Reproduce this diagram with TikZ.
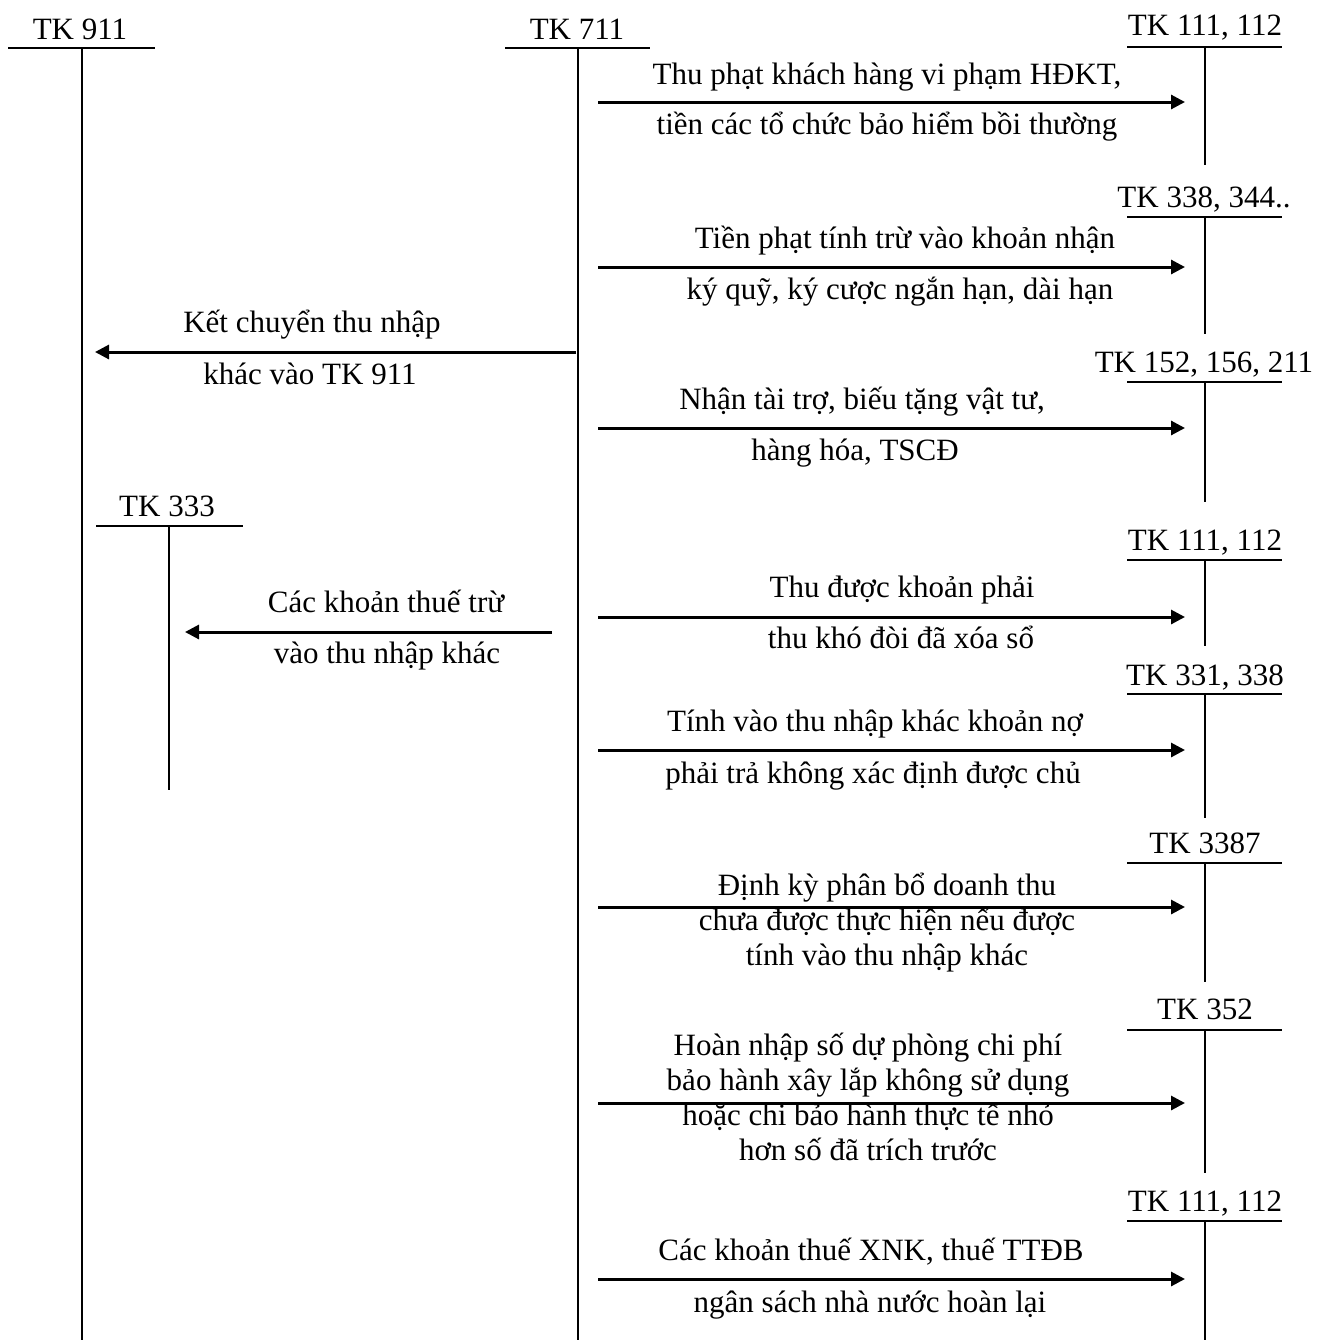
\documentclass[tikz,border=0pt]{standalone}
\usepackage{fontspec}
\setmainfont{Liberation Serif}
\usetikzlibrary{arrows.meta}

\tikzset{
  acct/.style={anchor=base, inner sep=0pt},
  lbl/.style={anchor=base, inner sep=0pt, align=center},
  tline/.style={line width=1pt},
  flow/.style={line width=1.5pt, -{Triangle[length=7pt,width=7pt]}}
}

\begin{document}
\begin{tikzpicture}[x=0.5pt, y=-0.5pt, font=\fontsize{15.5}{17.5}\selectfont]
    \useasboundingbox (0,0) rectangle (1319,1340);
    % Left accounts
    \node[acct] (tk911) at (80,39) {TK 911};
    \draw[tline] (8,48) -- (155,48);
    \draw[tline] (82,48) coordinate (s911) -- (82,1340);
    \node[acct] (tk711) at (577,39) {TK 711};
    \draw[tline] (505,48) -- (650,48);
    \draw[tline] (578,48) coordinate (s711) -- (578,1340);
    \node[acct] (tk333) at (167,516) {TK 333};
    \draw[tline] (96,526) -- (243,526);
    \draw[tline] (169,526) coordinate (s333) -- (169,790);
    % Right accounts
    \node[acct] (tk111a) at (1205,35) {TK 111, 112};
    \draw[tline] (1127,47) -- (1282,47);
    \draw[tline] (1205,47) -- (1205,165);
    \node[acct] (tk338) at (1204,207) {TK 338, 344..};
    \draw[tline] (1127,217) -- (1282,217);
    \draw[tline] (1205,217) -- (1205,334);
    \node[acct] (tk152) at (1204,372) {TK 152, 156, 211};
    \draw[tline] (1127,382) -- (1282,382);
    \draw[tline] (1205,382) -- (1205,502);
    \node[acct] (tk111b) at (1205,550) {TK 111, 112};
    \draw[tline] (1127,560) -- (1282,560);
    \draw[tline] (1205,560) -- (1205,646);
    \node[acct] (tk331) at (1205,685) {TK 331, 338};
    \draw[tline] (1127,694) -- (1282,694);
    \draw[tline] (1205,694) -- (1205,818);
    \node[acct] (tk3387) at (1205,853) {TK 3387};
    \draw[tline] (1127,863) -- (1282,863);
    \draw[tline] (1205,863) -- (1205,982);
    \node[acct] (tk352) at (1205,1019) {TK 352};
    \draw[tline] (1127,1030) -- (1282,1030);
    \draw[tline] (1205,1030) -- (1205,1173);
    \node[acct] (tk111c) at (1205,1211) {TK 111, 112};
    \draw[tline] (1127,1221) -- (1282,1221);
    \draw[tline] (1205,1221) -- (1205,1340);
    % Arrow ends
    \coordinate (f1a) at (598,102);  \coordinate (f1b) at (1185,102);
    \coordinate (f2a) at (598,267);  \coordinate (f2b) at (1185,267);
    \coordinate (k1a) at (576,352);  \coordinate (k1b) at (95,352);
    \coordinate (f3a) at (598,428);  \coordinate (f3b) at (1185,428);
    \coordinate (k2a) at (552,632);  \coordinate (k2b) at (185,632);
    \coordinate (f4a) at (598,617);  \coordinate (f4b) at (1185,617);
    \coordinate (f5a) at (598,750);  \coordinate (f5b) at (1185,750);
    \coordinate (f6a) at (598,907);  \coordinate (f6b) at (1185,907);
    \coordinate (f7a) at (598,1103); \coordinate (f7b) at (1185,1103);
    \coordinate (f8a) at (598,1279); \coordinate (f8b) at (1185,1279);
    % Entries
    \draw[flow] (f1a) -- (f1b);
    \node[lbl] (t1a) at (887,84) {Thu phạt khách hàng vi phạm HĐKT,};
    \node[lbl] (t1b) at (887,134) {tiền các tổ chức bảo hiểm bồi thường};
    \draw[flow] (f2a) -- (f2b);
    \node[lbl] (t2a) at (905,248) {Tiền phạt tính trừ vào khoản nhận};
    \node[lbl] (t2b) at (900,299) {ký quỹ, ký cược ngắn hạn, dài hạn};
    \draw[flow] (k1a) -- (k1b);
    \node[lbl] (u1a) at (312,332) {Kết chuyển thu nhập};
    \node[lbl] (u1b) at (310,384) {khác vào TK 911};
    \draw[flow] (f3a) -- (f3b);
    \node[lbl] (t3a) at (862,409) {Nhận tài trợ, biếu tặng vật tư,};
    \node[lbl] (t3b) at (855,460) {hàng hóa, TSCĐ};
    \draw[flow] (k2a) -- (k2b);
    \node[lbl] (u2a) at (386,612) {Các khoản thuế trừ};
    \node[lbl] (u2b) at (387,663) {vào thu nhập khác};
    \draw[flow] (f4a) -- (f4b);
    \node[lbl] (t4a) at (902,597) {Thu được khoản phải};
    \node[lbl] (t4b) at (901,648) {thu khó đòi đã xóa sổ};
    \draw[flow] (f5a) -- (f5b);
    \node[lbl] (t5a) at (875,731) {Tính vào thu nhập khác khoản nợ};
    \node[lbl] (t5b) at (873,783) {phải trả không xác định được chủ};
    \draw[flow] (f6a) -- (f6b);
    \node[lbl] (t6) at (887,965) {Định kỳ phân bổ doanh thu\\chưa được thực hiện nếu được\\tính vào thu nhập khác};
    \draw[flow] (f7a) -- (f7b);
    \node[lbl] (t7) at (868,1160) {Hoàn nhập số dự phòng chi phí\\bảo hành xây lắp không sử dụng\\hoặc chi bảo hành thực tế nhỏ\\hơn số đã trích trước};
    \draw[flow] (f8a) -- (f8b);
    \node[lbl] (t8a) at (871,1260) {Các khoản thuế XNK, thuế TTĐB};
    \node[lbl] (t8b) at (870,1312) {ngân sách nhà nước hoàn lại};
\end{tikzpicture}
\end{document}
